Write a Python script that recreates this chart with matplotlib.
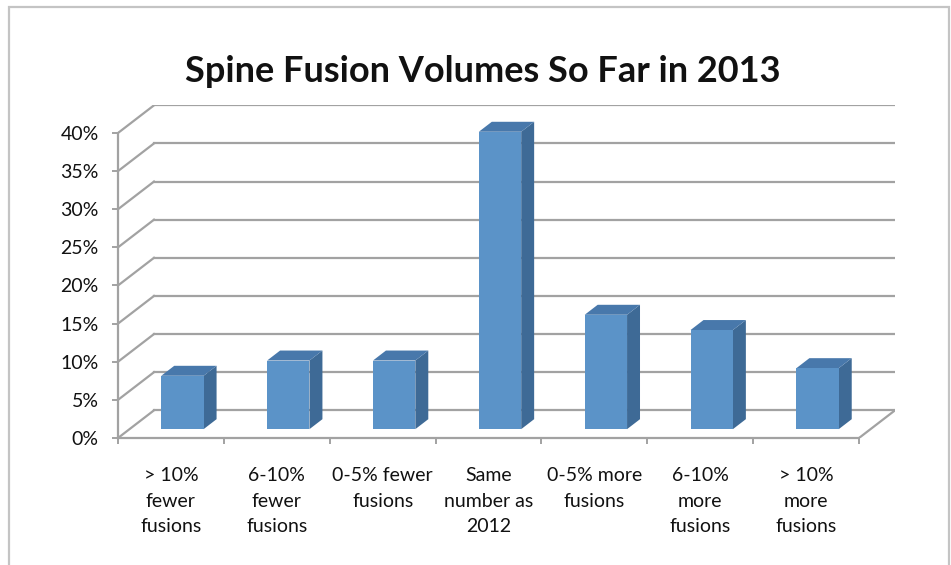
import numpy as np
import matplotlib.pyplot as plt
from matplotlib.patches import Polygon, Rectangle

plt.rcParams['font.family'] = ['Lato', 'DejaVu Sans']

categories = ['> 10%\nfewer\nfusions', '6-10%\nfewer\nfusions', '0-5% fewer\nfusions',
              'Same\nnumber as\n2012', '0-5% more\nfusions', '6-10%\nmore\nfusions',
              '> 10%\nmore\nfusions']
values = [7, 9, 9, 39, 15, 13, 8]
yticks = [0, 5, 10, 15, 20, 25, 30, 35, 40]
ytick_labels = ['0%', '5%', '10%', '15%', '20%', '25%', '30%', '35%', '40%']

# fake 3d: depth offset of the back wall, in data units
DX = 0.34
DY = 3.63
f1, f2 = 0.32, 0.68   # bar depth range (fraction of the floor depth)
bw = 0.4

grid_c = '#a2a2a2'
face_c = '#5b93c8'
side_c = '#3e6a96'
top_c = '#4878ab'

fig = plt.figure(figsize=(9.51, 5.65), dpi=100)

# chart frame
fig.add_artist(Rectangle((9 / 951, -0.02), 940 / 951, 1.0 - 7 / 565 + 0.02,
                         transform=fig.transFigure, fill=False,
                         edgecolor='#c4c4c4', linewidth=1.6))

fig.text(483 / 951, 1 - 71 / 565, 'Spine Fusion Volumes So Far in 2013', ha='center', va='center',
         fontsize=26, fontweight='bold', color='#111111')

n = len(values)
ax = fig.add_axes([118 / 951, 127 / 565, 777 / 951, 332.7 / 565])
ax.set_xlim(0, n + DX)
ax.set_ylim(0, 40 + DY)
ax.patch.set_visible(False)

for s in ['top', 'right']:
    ax.spines[s].set_visible(False)
ax.spines['left'].set_bounds(0, 40)
ax.spines['bottom'].set_bounds(0, n)
for s in ['left', 'bottom']:
    ax.spines[s].set_color(grid_c)
    ax.spines[s].set_linewidth(1.6)

# gridlines on back wall + left wall diagonals
for v in yticks:
    ax.plot([DX, n + DX], [v + DY, v + DY], color=grid_c, lw=1.6, zorder=1)
    ax.plot([0, DX], [v, v + DY], color=grid_c, lw=1.6, zorder=1)
# right edge of the floor
ax.plot([n, n + DX], [0, DY], color=grid_c, lw=1.6, zorder=1)

ax.set_yticks(yticks)
ax.set_yticklabels(ytick_labels)
ax.set_xticks(np.arange(n + 1))
ax.set_xticklabels([])
ax.set_xticks(np.arange(n) + 0.5, minor=True)
ax.set_xticklabels(categories, minor=True, linespacing=1.6)
ax.tick_params(axis='both', which='major', direction='out', length=4, width=1.4, color=grid_c)
ax.tick_params(axis='y', labelsize=14, pad=10, labelcolor='#111111')
ax.tick_params(axis='x', which='minor', length=0, labelsize=14, pad=21, labelcolor='#111111')

dd = f2 - f1
for i, v in enumerate(values):
    x0 = i + 0.5 - bw / 2 + f1 * DX
    x1 = x0 + bw
    y0 = f1 * DY
    y1 = y0 + v
    ax.add_patch(Polygon([(x1, y0), (x1, y1), (x1 + dd * DX, y1 + dd * DY), (x1 + dd * DX, y0 + dd * DY)],
                         closed=True, facecolor=side_c, edgecolor='none', zorder=3))
    ax.add_patch(Polygon([(x0, y1), (x1, y1), (x1 + dd * DX, y1 + dd * DY), (x0 + dd * DX, y1 + dd * DY)],
                         closed=True, facecolor=top_c, edgecolor='none', zorder=3))
    ax.add_patch(Rectangle((x0, y0), bw, v, facecolor=face_c, edgecolor='none', zorder=4))

fig.savefig('out.png', dpi=100)
